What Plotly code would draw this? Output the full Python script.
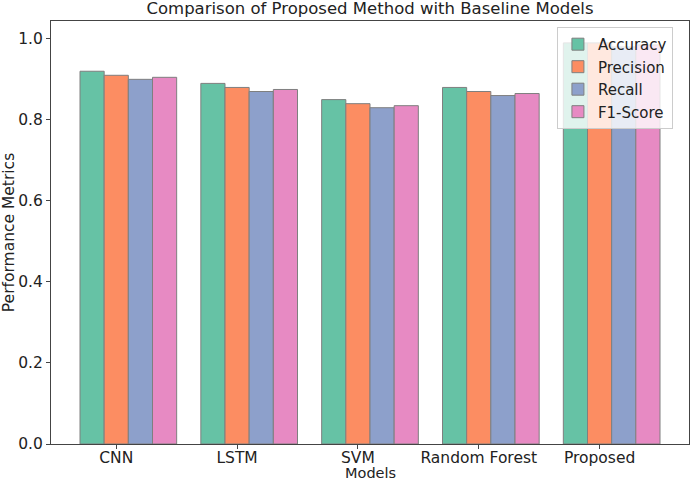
import plotly.graph_objects as go

# models and metric scores
models = ['CNN', 'LSTM', 'SVM', 'Random Forest', 'Proposed']
accuracy = [0.92, 0.89, 0.85, 0.88, 0.99]
precision = [0.91, 0.88, 0.84, 0.87, 0.99]
recall = [0.90, 0.87, 0.83, 0.86, 0.98]
f1_score = [0.905, 0.875, 0.835, 0.865, 0.985]

metric_names = ['Accuracy', 'Precision', 'Recall', 'F1-Score']
y_ticks = [0.0, 0.2, 0.4, 0.6, 0.8, 1.0]

colors = ['#66c2a5', '#fc8d62', '#8da0cb', '#e78ac3']
width = 0.2

fig = go.Figure()
for k, (name, vals) in enumerate(zip(metric_names, [accuracy, precision, recall, f1_score])):
    fig.add_trace(go.Bar(
        x=models, y=vals, name=name,
        width=width, offset=-0.3 + k * width,
        marker=dict(color=colors[k], line=dict(color='#7f7f7f', width=1)),
    ))

txt = '#222'
axis_font = dict(family='DejaVu Sans', size=15, color=txt)

fig.update_layout(
    width=692, height=481,
    barmode='overlay',
    plot_bgcolor='white', paper_bgcolor='white',
    margin=dict(l=51, r=3, t=21, b=37, autoexpand=False),
    font=dict(family='DejaVu Sans', size=15, color=txt),
    title=dict(text='Comparison of Proposed Method with Baseline Models',
               x=0.5, xref='paper', y=0.982, yref='container', yanchor='middle',
               font=dict(family='DejaVu Sans', size=16.5, color=txt)),
    legend=dict(x=0.793, y=0.986, xanchor='left', yanchor='top',
                bgcolor='rgba(255,255,255,0.8)', bordercolor='#cccccc', borderwidth=1,
                font=dict(family='DejaVu Sans', size=15, color=txt),
                tracegroupgap=0),
)

# x title placed as annotation, close under the tick labels
fig.add_annotation(text='Models', x=0.5, xref='paper', y=-0.069, yref='paper',
                   yanchor='middle', showarrow=False,
                   font=dict(family='DejaVu Sans', size=14.5, color=txt))

fig.update_xaxes(
    range=[-0.54, 4.74], showline=True, linecolor='#444', linewidth=1.2, mirror=True,
    ticks='outside', ticklen=4, tickcolor='#444', tickfont=dict(axis_font, size=15.5),
    ticklabelstandoff=-5,
    showgrid=False, automargin=False,
)
fig.update_yaxes(
    range=[0, 1.044], showline=True, linecolor='#444', linewidth=1.2, mirror=True,
    ticks='outside', ticklen=4, tickcolor='#444', tickfont=dict(axis_font, size=15.5),
    tickvals=y_ticks, tickformat='.1f',
    title=dict(text='Performance Metrics', font=dict(family='DejaVu Sans', size=15.5, color=txt)),
    showgrid=False, zeroline=False, automargin=False,
)

# drop the default page margin so the figure sits at the window's corner
fig.write_html('out.html', config={'displayModeBar': False},
               post_script="document.body.style.margin='0';")
